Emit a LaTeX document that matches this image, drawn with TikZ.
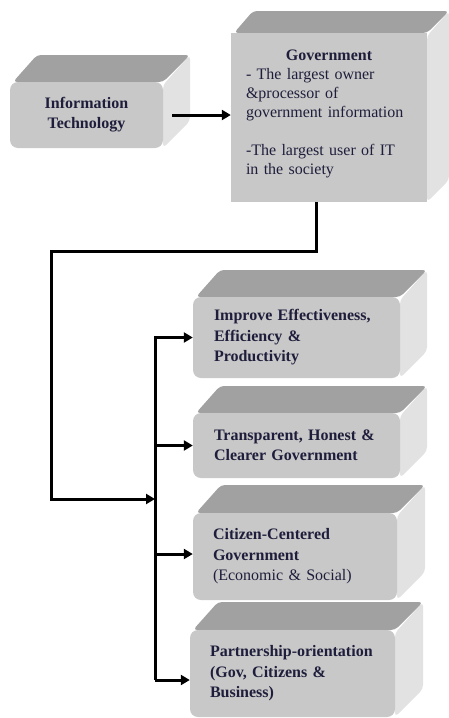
\documentclass[tikz,border=0pt]{standalone}
\usepackage{fontspec}
\setmainfont{Liberation Serif}
\usetikzlibrary{arrows.meta,calc}
\definecolor{frontc}{HTML}{C8C8C8}
\definecolor{topc}{HTML}{A1A1A1}
\definecolor{sidec}{HTML}{E2E2E2}
\definecolor{txtc}{HTML}{1E1E3C}
% #1 x1, #2 y1, #3 x2, #4 y2, #5 depth
\newcommand\cubefaces[5]{%
  \fill[topc,rounded corners=4pt] ({#1+3},#2) -- ({#1+#5},{#2-#5}) -- ({#3+#5},{#2-#5}) -- (#3,#2) -- cycle;
  \fill[sidec,rounded corners=4pt] (#3,{#2+3}) -- ({#3+#5},{#2-#5}) -- ({#3+#5},{#4-#5}) -- (#3,#4) -- cycle;
}
\tikzset{
  front/.style={fill=frontc, rounded corners=8pt, inner sep=0pt, text=txtc},
  flat/.style={fill=frontc, inner sep=0pt, text=txtc},
  line/.style={line width=3pt, draw=black},
  arr/.style={line/.try, -{Triangle[length=9pt,width=10pt]}},
  lowtxt/.style={font=\fontsize{16}{20.5}\selectfont\bfseries, align=left}
}
\begin{document}
\begin{tikzpicture}[x=1pt,y=-1pt]
\useasboundingbox (0,0) rectangle (448,718);
% Information Technology
\cubefaces{10}{82}{163}{148}{27}
\node[front, minimum width=153pt, minimum height=66pt, align=center,
      font=\fontsize{16}{20}\selectfont\bfseries] (it) at (86.5,115) {Information\\Technology};
% Government
\cubefaces{231}{33}{427}{202}{22}
\node[flat, minimum width=196pt, minimum height=169pt, text width=166pt, align=left,
      font=\fontsize{16}{19}\selectfont] (gov) at (329,117.5)
  {\makebox[166pt]{\textbf{Government}}\\- The largest owner\\\&processor of\\government information\\[19pt]-The largest user of IT\\in the society\\[-8pt]\mbox{}};
% Outcome boxes
\cubefaces{193}{297}{400}{378}{27}
\node[front, lowtxt, minimum width=207pt, minimum height=81pt, text width=165pt] (b1) at (296.5,337.5)
  {Improve Effectiveness,\\Efficiency \&\\Productivity};
\cubefaces{193}{413}{400}{478}{27}
\node[front, lowtxt, minimum width=207pt, minimum height=65pt, text width=165pt] (b2) at (296.5,445.5)
  {Transparent, Honest \&\\Clearer Government};
\cubefaces{193}{513}{397}{600}{28}
\node[front, lowtxt, minimum width=204pt, minimum height=87pt, text width=164pt] (b3) at (295,556.5)
  {Citizen-Centered\\Government\\\mdseries(Economic \& Social)};
\cubefaces{190}{630}{395}{717}{28}
\node[front, lowtxt, minimum width=205pt, minimum height=87pt, text width=165pt] (b4) at (292.5,673.5)
  {Partnership-orientation\\(Gov, Citizens \&\\Business)};
% connectors
\coordinate (gsrc) at (316,202);
\coordinate (corner) at (51,251);
\coordinate (jn) at (155,499);
\draw[arr] ([xshift=9pt]it.east) -- (it.east -| gov.west);
\draw[arr] (gsrc) |- (corner) |- (jn);
\draw[arr] ([yshift=-6.5pt]b4.west -| jn) -- (jn |- b1.west) -- (b1.west);
\draw[arr] (jn |- b2.west) -- (b2.west);
\draw[arr] ([yshift=2.5pt]b3.west -| jn) -- ([yshift=2.5pt]b3.west);
\draw[arr] ([yshift=-6.5pt]b4.west -| jn) -- ([yshift=-6.5pt]b4.west);
\end{tikzpicture}
\end{document}
